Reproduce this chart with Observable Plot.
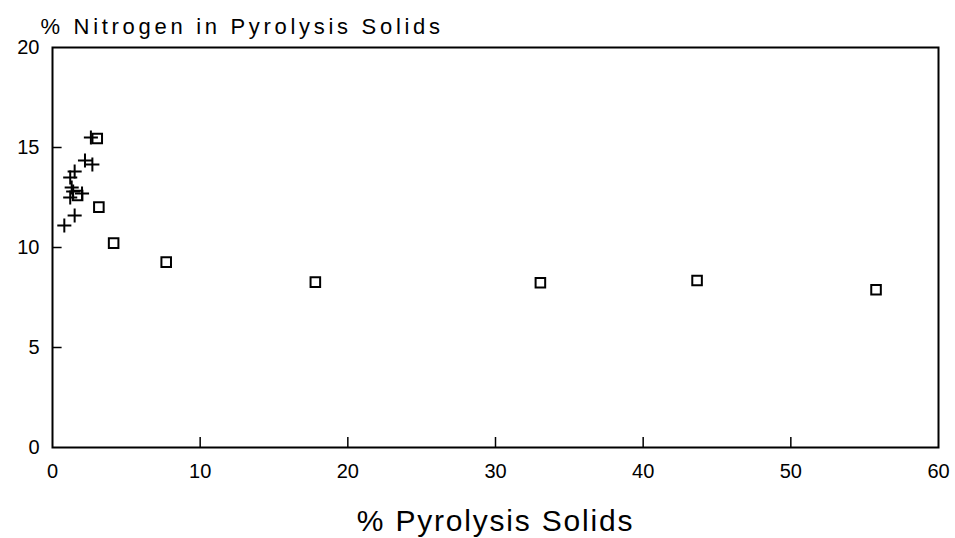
<!DOCTYPE html>
<html>
<head>
<meta charset="utf-8">
<script src="https://cdn.jsdelivr.net/npm/d3@7"></script>
<script src="https://cdn.jsdelivr.net/npm/@observablehq/plot@0.6"></script>
<style>
  html, body { margin: 0; padding: 0; background: #fff; }
  #chart svg { display: block; }
</style>
</head>
<body>
<div id="chart"></div>
<script>
// Open squares: pyrolysis solids yield vs nitrogen content
const squareX = [3.03, 3.14, 4.14, 7.70, 17.80, 33.04, 43.65, 55.77, 1.7];
const squareY = [15.45, 12.02, 10.22, 9.27, 8.27, 8.24, 8.35, 7.89, 12.6];

// Plus markers
const plusX = [2.6, 2.2, 2.7, 1.5, 1.2, 1.3, 1.4, 2.0, 1.2, 1.5, 0.8];
const plusY = [15.5, 14.35, 14.15, 13.8, 13.5, 13.0, 12.8, 12.7, 12.5, 11.6, 11.1];

const xTicks = [0, 10, 20, 30, 40, 50, 60];
const yTicks = [0, 5, 10, 15, 20];

const yTitle = "% Nitrogen in Pyrolysis Solids";
const xTitle = "% Pyrolysis Solids";

const squares = squareX.map((x, i) => ({x, y: squareY[i]}));
const pluses = plusX.map((x, i) => ({x, y: plusY[i]}));

const font = "'Liberation Sans', Arial, Helvetica, sans-serif";

const chart = Plot.plot({
  width: 955,
  height: 538,
  marginLeft: 52,
  marginRight: 17,
  marginTop: 47,
  marginBottom: 91,
  style: {fontFamily: font, background: "#fff", color: "#000"},
  x: {domain: [0, 60]},
  y: {domain: [0, 20]},
  marks: [
    Plot.frame({stroke: "#000", strokeWidth: 2}),
    // inward tick marks
    Plot.ruleX(xTicks.slice(1, -1), {y1: 0, y2: 0.5, stroke: "#000", strokeWidth: 1.5}),
    Plot.ruleY(yTicks.slice(1, -1), {x1: 0, x2: 0.65, stroke: "#000", strokeWidth: 1.5}),
    Plot.axisX({ticks: xTicks, tickSize: 0, tickPadding: 16, fontSize: 20, label: null}),
    Plot.axisY({ticks: yTicks, tickSize: 0, tickPadding: 13, fontSize: 20, label: null}),
    Plot.dot(squares, {x: "x", y: "y", symbol: "square", r: 5.4, stroke: "#000", strokeWidth: 2, fill: "none"}),
    Plot.dot(pluses, {x: "x", y: "y", symbol: "plus", r: 4.6, stroke: "#000", strokeWidth: 2}),
    Plot.text([yTitle], {frameAnchor: "top-left", dx: -12, dy: -29, textAnchor: "start", fontSize: 22, fill: "#000"}),
    Plot.text([xTitle], {frameAnchor: "bottom", dy: 83, fontSize: 30, fill: "#000"})
  ]
});

// wider letter spacing on the two titles
d3.select(chart).selectAll("text")
  .filter(function() { return this.textContent === yTitle; })
  .attr("letter-spacing", 3.7);
d3.select(chart).selectAll("text")
  .filter(function() { return this.textContent === xTitle; })
  .attr("letter-spacing", 1.8);

document.getElementById("chart").appendChild(chart);
</script>
</body>
</html>
